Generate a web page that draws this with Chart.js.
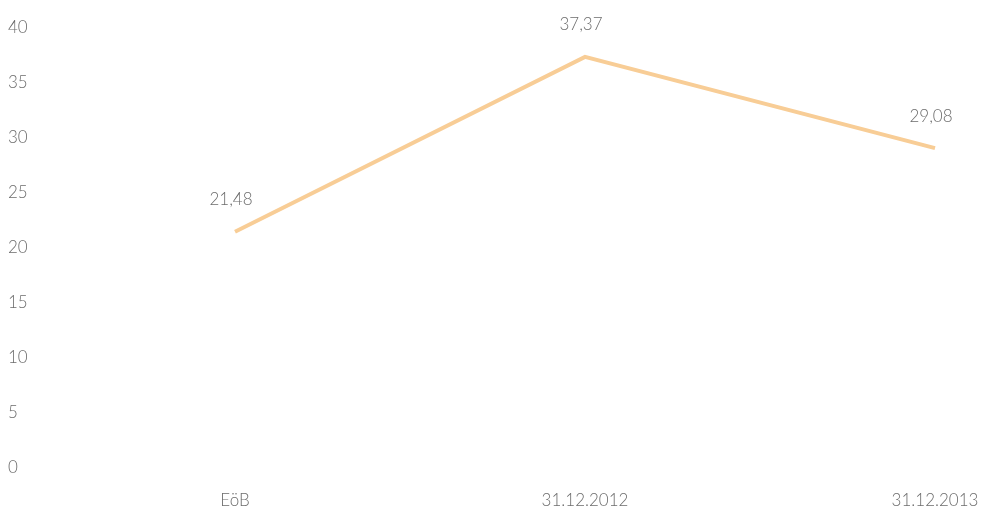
<!DOCTYPE html>
<html>
<head>
<meta charset="utf-8">
<script src="https://cdn.jsdelivr.net/npm/chart.js@4"></script>
<style>
  html, body { margin: 0; padding: 0; background: #fff; }
  #wrap { width: 989px; height: 515px; }
</style>
</head>
<body>
<div id="wrap"><canvas id="grafik"></canvas></div>
<script>
// Kategorien und Werte
const kategorien = ['EöB', '31.12.2012', '31.12.2013'];
const werte = [21.48, 37.37, 29.08];
const yTicks = [0, 5, 10, 15, 20, 25, 30, 35, 40];

const schrift = { family: 'Lato, "Open Sans", sans-serif', size: 17, weight: '300' };
const grau = '#6c6c6c';

// Werte über die Punkte schreiben (mit Komma)
const wertBeschriftung = {
    id: 'wertBeschriftung',
    afterDatasetsDraw(chart) {
        const c = chart.ctx;
        const meta = chart.getDatasetMeta(0);
        c.save();
        c.font = schrift.weight + ' ' + schrift.size + 'px ' + schrift.family;
        c.fillStyle = grau;
        c.textAlign = 'center';
        c.textBaseline = 'middle';
        meta.data.forEach((pt, i) => {
            const txt = werte[i].toFixed(2).replace('.', ',');
            c.fillText(txt, pt.x - 4, pt.y - 32);
        });
        c.restore();
    }
};

const ctx = document.getElementById('grafik').getContext('2d');
new Chart(ctx, {
    type: 'line',
    data: {
        labels: kategorien,
        datasets: [{
            data: werte,
            borderColor: '#f8cd96',
            borderWidth: 4,
            pointRadius: 0,
            tension: 0,
            fill: false
        }]
    },
    options: {
        responsive: true,
        maintainAspectRatio: false,
        animation: false,
        layout: { padding: { top: 28, right: 54, bottom: 2, left: 8 } },
        plugins: {
            legend: { display: false },
            tooltip: { enabled: false }
        },
        scales: {
            x: {
                offset: false,
                grid: { display: false },
                border: { display: false },
                afterFit: (axis) => { axis.height = 45; axis.paddingRight = 0; axis.paddingLeft = 0; },
                ticks: { color: grau, font: schrift, padding: 14, maxRotation: 0 }
            },
            y: {
                min: 0,
                max: 40,
                afterBuildTicks: (axis) => { axis.ticks = yTicks.map(v => ({ value: v })); },
                afterFit: (axis) => { axis.width = 227; },
                grid: { display: false },
                border: { display: false },
                ticks: { color: grau, font: schrift, crossAlign: 'far', padding: 0 }
            }
        }
    },
    plugins: [wertBeschriftung]
});
</script>
</body>
</html>
